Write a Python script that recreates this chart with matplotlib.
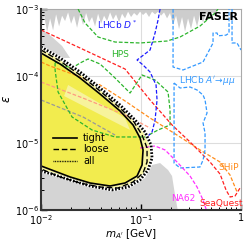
import numpy as np
import matplotlib
matplotlib.use("Agg")
import matplotlib.pyplot as plt
from matplotlib.ticker import FixedLocator, FixedFormatter, LogLocator, NullFormatter

# all curves stored as log10(m_A' / GeV), log10(epsilon)

# FASER reach: outer "all" contour, "loose" and "tight"
all_lm = [-2.00, -1.81, -1.61, -1.41, -1.21, -1.06, -0.96, -0.90, -0.89, -0.93, -1.01, -1.13, -1.29, -1.51, -1.71, -1.86, -2.00]
all_le = [-3.567, -3.731, -3.940, -4.179, -4.433, -4.657, -4.836, -5.030, -5.224, -5.403, -5.552, -5.657, -5.701, -5.642, -5.552, -5.478, -5.418]
loose_lm = [-2.00, -1.81, -1.61, -1.41, -1.21, -1.07, -0.99, -0.94, -0.94, -0.98, -1.08, -1.23, -1.41, -1.61, -1.81, -2.00]
loose_le = [-3.612, -3.776, -3.985, -4.224, -4.478, -4.687, -4.881, -5.075, -5.284, -5.448, -5.582, -5.672, -5.657, -5.597, -5.507, -5.388]
tight_lm = [-2.00, -1.81, -1.61, -1.41, -1.21, -1.08, -1.01, -0.98, -0.99, -1.04, -1.16, -1.31, -1.51, -1.71, -2.00]
tight_le = [-3.657, -3.821, -4.030, -4.269, -4.522, -4.731, -4.925, -5.104, -5.328, -5.493, -5.597, -5.642, -5.597, -5.507, -5.343]
band_lm = [-1.73, -1.16, -1.11, -1.77]
band_le = [-4.134, -4.627, -4.806, -4.299]

# existing bounds (gray)
low_gray_lm = [-2.00, -1.71, -1.29, -1.11, -0.96, -0.89, -0.81, -0.73, -0.69, -0.66, -0.63]
low_gray_le = [-5.403, -5.552, -5.701, -5.672, -5.522, -5.328, -5.299, -5.403, -5.493, -5.776, -6.03]
wedge_lm = [-2.00, -1.89, -1.79, -1.71, -2.00]
wedge_le = [-3.284, -3.418, -3.552, -3.731, -3.731]
top_lm = [-2.00, -1.97, -1.94, -1.91, -1.88, -1.85, -1.82, -1.79, -1.76, -1.73, -1.70, -1.67, -1.64,
          -1.61, -1.58, -1.55, -1.52, -1.49, -1.46, -1.43, -1.40, -1.37, -1.34, -1.31, -1.28, -1.25,
          -1.22, -1.19, -1.16, -1.13, -1.10, -1.07, -1.04, -1.01, -0.98, -0.95, -0.92, -0.89, -0.86,
          -0.83, -0.80, -0.77, -0.74, -0.71, -0.68, -0.65, -0.62, -0.59, -0.56, -0.53, -0.50, -0.47,
          -0.44, -0.41, -0.38, -0.35, -0.32, -0.29, -0.26, -0.23]
top_le = [-3.30, -3.10, -3.34, -3.14, -3.32, -3.08, -3.26, -3.10, -3.18, -3.05, -3.22, -3.10, -3.28,
          -3.08, -3.24, -3.06, -3.20, -3.12, -3.26, -3.07, -3.22, -3.10, -3.18, -3.05, -3.16, -3.08,
          -3.20, -3.07, -3.14, -3.04, -3.12, -3.06, -3.10, -3.04, -3.09, -3.05, -3.12, -3.04, -3.08,
          -3.04, -3.10, -3.05, -3.14, -3.06, -3.24, -3.10, -3.30, -3.12, -3.34, -3.14, -3.30, -3.10,
          -3.26, -3.08, -3.20, -3.06, -3.14, -3.05, -3.08, -3.00]

# other experiments
seaquest_lm = [-2.00, -1.61, -1.16, -0.91, -0.69, -0.51, -0.31, -0.21, -0.15, -0.11, -0.06, -0.01]
seaquest_le = [-3.313, -3.582, -3.896, -4.358, -4.731, -4.985, -5.284, -5.463, -5.701, -5.806, -5.791, -5.672]
ship_lm = [-2.00, -1.91, -1.66, -1.41, -1.16, -0.91, -0.61, -0.41, -0.21, -0.11, -0.04]
ship_le = [-3.791, -3.851, -3.985, -4.134, -4.373, -4.627, -4.910, -5.104, -5.284, -5.478, -5.731]
salmon_lm = [-2.00, -1.58, -1.16, -0.91]
salmon_le = [-4.090, -4.330, -4.582, -4.776]
grayd_lm = [-2.00, -1.58, -1.26]
grayd_le = [-4.358, -4.612, -4.881]
hps1_lm = [-1.63, -1.56, -1.43, -1.26, -1.01, -0.74, -0.61, -0.41, -0.26, -0.23]
hps1_le = [-3.0, -3.209, -3.418, -3.493, -3.507, -3.478, -3.418, -3.254, -3.060, -3.0]
hps2_lm = [-1.86, -1.76, -1.69, -1.61, -1.53, -1.41, -1.26, -1.11, -0.99, -0.86, -0.73, -0.71, -0.71,
           -0.83, -0.96, -1.26, -1.49, -1.69, -1.83, -1.86, -1.86]
hps2_le = [-3.791, -3.851, -3.881, -3.806, -3.746, -3.821, -4.030, -4.254, -3.985, -4.060, -4.239, -4.507,
           -4.731, -4.806, -4.910, -4.910, -4.806, -4.612, -4.239, -3.910, -3.791]
dstar_lm = [-0.81, -0.83, -0.86, -0.91, -1.04, -0.98, -0.91, -0.85, -0.84, -0.86, -0.89, -0.95]
dstar_le = [-3.0, -3.164, -3.358, -3.612, -3.761, -3.836, -3.940, -4.134, -4.358, -4.657, -4.836, -4.925]
lhcb1_lm = [-0.68, -0.68, -0.58, -0.38, -0.28, -0.28, -0.24, -0.23, -0.15, -0.12, -0.12]
lhcb1_le = [-3.0, -3.866, -3.910, -3.791, -3.507, -3.358, -3.358, -3.40, -3.39, -3.36, -3.0]
lhcb2_lm = [-0.09, -0.09, -0.04, 0.0]
lhcb2_le = [-3.0, -3.507, -3.507, -3.612]
lhcb3_lm = [-0.67, -0.61, -0.51, -0.44, -0.38, -0.36, -0.34, -0.38, -0.36, -0.36, -0.38, -0.41, -0.61, -0.67, -0.67]
lhcb3_le = [-4.104, -4.179, -4.164, -4.209, -4.284, -4.358, -4.552, -4.701, -4.851, -5.104, -5.254, -5.358,
            -5.373, -5.299, -4.104]
na62_lm = [-1.01, -0.86, -0.76, -0.63, -0.51, -0.44, -0.38, -0.34]
na62_le = [-5.075, -5.045, -5.104, -5.299, -5.493, -5.657, -5.851, -6.03]

legend_names = ['tight', 'loose', 'all']
legend_eps = [1.19e-5, 8.1e-6, 5.4e-6]


def p(lm, le):
    return 10 ** np.array(lm), 10 ** np.array(le)


fig = plt.figure(figsize=(2.49, 2.40), dpi=100)
ax = fig.add_axes([0.165, 0.125, 0.803, 0.8375])
ax.set_xscale('log')
ax.set_yscale('log')
ax.set_xlim(0.01, 1)
ax.set_ylim(1e-6, 1e-3)

gray = '#d4d4d4'
x, y = p(low_gray_lm, low_gray_le)
ax.fill(np.r_[x, 0.01], np.r_[y, 1e-6], color=gray, lw=0, zorder=1)
x, y = p(wedge_lm, wedge_le)
ax.fill(x, y, color=gray, lw=0, zorder=1)
x, y = p(top_lm, top_le)
ax.fill(np.r_[x, x[-1], 0.01], np.r_[y, 1e-3, 1e-3], color='#cdcdcd', lw=0, zorder=1)

# grid lines at decades
ax.axvline(0.1, color='#dddddd', lw=0.8, zorder=0.5)
for e in [1e-4, 1e-5]:
    ax.axhline(e, color='#dddddd', lw=0.8, zorder=0.5)

# FASER
x, y = p(all_lm, all_le)
ax.fill(x, y, color='#f9f6a4', lw=0, zorder=2)
x, y = p(tight_lm, tight_le)
ax.fill(x, y, color='#f2ec4e', lw=0, zorder=2)
x, y = p(band_lm, band_le)
ax.fill(x, y, color='#f7f39c', lw=0, zorder=2)

# other experiments
dash = (0, (3, 1.5))
ax.plot(*p(grayd_lm, grayd_le), color='#999999', lw=0.9, ls=dash, zorder=3)
ax.plot(*p(salmon_lm, salmon_le), color='#ff9a80', lw=0.9, ls=dash, zorder=3)
ax.plot(*p(hps1_lm, hps1_le), color='#2db52d', lw=0.9, ls=dash, zorder=3)
ax.plot(*p(hps2_lm, hps2_le), color='#2db52d', lw=0.9, ls=dash, zorder=3)
ax.plot(*p(ship_lm, ship_le), color='#ff8c1a', lw=0.9, ls=dash, zorder=3)
ax.plot(*p(seaquest_lm, seaquest_le), color='#ff2020', lw=0.9, ls=dash, zorder=3)
ax.plot(*p(dstar_lm, dstar_le), color='#1a1aff', lw=0.9, ls=dash, zorder=3)
ax.plot(*p(lhcb1_lm, lhcb1_le), color='#3399ff', lw=0.9, ls=dash, zorder=3)
ax.plot(*p(lhcb2_lm, lhcb2_le), color='#3399ff', lw=0.9, ls=dash, zorder=3)
ax.plot(*p(lhcb3_lm, lhcb3_le), color='#3399ff', lw=0.9, ls=dash, zorder=3)
ax.plot(*p(na62_lm, na62_le), color='#ff30ff', lw=0.9, ls=dash, zorder=3)

# FASER contours
x, y = p(all_lm, all_le)
ax.plot(x, y, color='white', lw=2.4, zorder=4)
ax.plot(x, y, color='black', lw=2.0, ls=(0, (0.6, 0.6)), zorder=4)
ax.plot(*p(loose_lm, loose_le), color='black', lw=1.0, ls=(0, (4, 2)), zorder=4)
ax.plot(*p(tight_lm, tight_le), color='black', lw=1.2, zorder=4)

# legend
styles = ['-', (0, (4, 2)), (0, (0.6, 0.6))]
widths = [1.2, 1.0, 1.0]
for yy, t, st, w in zip(legend_eps, legend_names, styles, widths):
    ax.plot([0.0132, 0.0229], [yy, yy], color='black', lw=w, ls=st, zorder=5)
    ax.text(0.0263, yy, t, fontsize=7, va='center', ha='left', zorder=5)

# labels
ax.text(0.93, 7.6e-4, 'FASER', fontsize=8, weight='bold', ha='right', va='center', zorder=6)
ax.text(0.0575, 5.8e-4, r"LHCb $D^*$", fontsize=6.5, color='#1a1aff', ha='center', va='center', zorder=6)
ax.text(0.0617, 2.06e-4, 'HPS', fontsize=6.5, color='#2db52d', ha='center', va='center', zorder=6)
ax.text(0.457, 8.7e-5, r"LHCb $A'\!\to\!\mu\mu$", fontsize=6.5, color='#3399ff', ha='center', va='center', zorder=6)
ax.text(0.76, 4.24e-6, 'SHiP', fontsize=6.5, color='#ff8c1a', ha='center', va='center', zorder=6)
ax.text(0.263, 1.51e-6, 'NA62', fontsize=6.5, color='#ff30ff', ha='center', va='center', zorder=6)
ax.text(0.63, 1.23e-6, 'SeaQuest', fontsize=6.5, color='#ff2020', ha='center', va='center', zorder=6)

ax.xaxis.set_major_locator(FixedLocator([0.01, 0.1, 1]))
ax.xaxis.set_major_formatter(FixedFormatter([r'$10^{-2}$', r'$10^{-1}$', '1']))
ax.xaxis.set_minor_locator(LogLocator(base=10, subs=np.arange(2, 10)))
ax.xaxis.set_minor_formatter(NullFormatter())
ax.yaxis.set_major_locator(FixedLocator([1e-6, 1e-5, 1e-4, 1e-3]))
ax.yaxis.set_major_formatter(FixedFormatter([r'$10^{-6}$', r'$10^{-5}$', r'$10^{-4}$', r'$10^{-3}$']))
ax.yaxis.set_minor_locator(LogLocator(base=10, subs=np.arange(2, 10)))
ax.yaxis.set_minor_formatter(NullFormatter())
ax.tick_params(which='both', direction='in', top=False, right=False, labelsize=7, pad=1.5, zorder=7)
ax.tick_params(axis='x', which='major', pad=2.5)
ax.tick_params(which='major', length=4, width=1)
ax.tick_params(which='minor', length=2, width=0.7)

for s in ['left', 'bottom']:
    ax.spines[s].set_linewidth(1.5)
    ax.spines[s].set_color('#333333')
    ax.spines[s].set_zorder(8)
for s in ['top', 'right']:
    ax.spines[s].set_linewidth(0.8)
    ax.spines[s].set_color('#aaaaaa')

ax.set_xlabel(r"$m_{A'}$ [GeV]", fontsize=7.5)
ax.xaxis.set_label_coords(0.45, -0.085)
ax.set_ylabel(r'$\epsilon$', fontsize=8.5, rotation=90)
ax.yaxis.set_label_coords(-0.14, 0.55)

fig.savefig('out.png', dpi=100)
